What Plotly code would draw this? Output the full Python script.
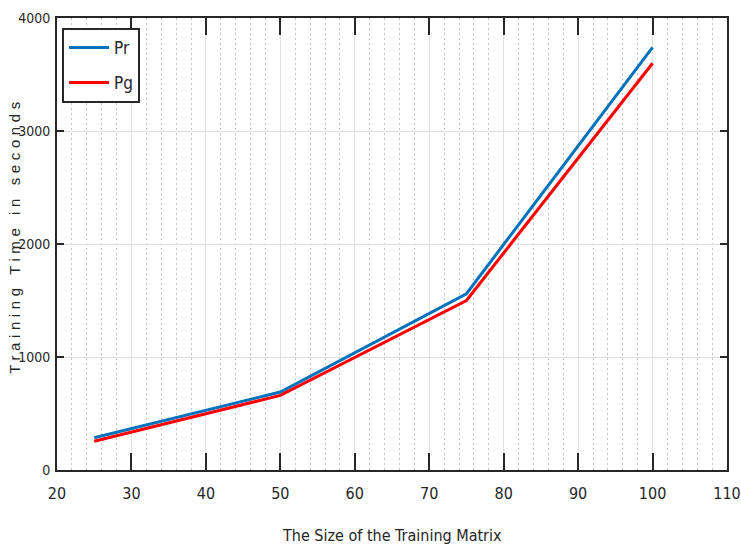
import plotly.graph_objects as go

# Training matrix sizes and measured training times (seconds)
matrix_size = [25, 50, 75, 100]
time_pr = [285, 690, 1560, 3740]
time_pg = [255, 660, 1500, 3600]

x_ticks = [20, 30, 40, 50, 60, 70, 80, 90, 100, 110]
y_ticks = [0, 1000, 2000, 3000, 4000]
x_minor_step = 2

narrow = "DejaVu Sans Condensed, Liberation Sans Narrow, Liberation Sans, sans-serif"
ink = "#262626"

fig = go.Figure()
fig.add_trace(go.Scatter(x=matrix_size, y=time_pr, mode="lines", name="Pr",
                         legendgroup="pr",
                         line=dict(color="#0072BD", width=3)))
fig.add_trace(go.Scatter(x=matrix_size, y=time_pg, mode="lines", name="Pg",
                         legendgroup="pg",
                         line=dict(color="#FF0000", width=3)))

fig.update_layout(
    width=741, height=553,
    margin=dict(l=57, r=14, t=18, b=83),
    paper_bgcolor="white", plot_bgcolor="white",
    font=dict(family=narrow, size=15, color=ink),
    showlegend=True,
    legend=dict(x=0.0075, y=0.978, xanchor="left", yanchor="top",
                bgcolor="white", bordercolor=ink, borderwidth=2,
                font=dict(family=narrow, size=17, color=ink),
                tracegroupgap=10, itemwidth=40),
)

fig.update_xaxes(
    range=[x_ticks[0], x_ticks[-1]],
    tickmode="linear", tick0=x_ticks[0], dtick=x_ticks[1] - x_ticks[0],
    ticks="inside", ticklen=17, tickwidth=1.5, tickcolor=ink,
    showline=True, linecolor=ink, linewidth=2, mirror="ticks",
    showgrid=True, gridcolor="#e0e0e0", gridwidth=1,
    minor=dict(tickmode="linear", tick0=x_ticks[0], dtick=x_minor_step,
               showgrid=True, gridcolor="#c4c4c4", griddash="2px,3px",
               gridwidth=1, ticks=""),
    tickfont=dict(family=narrow, size=16, color=ink),
    ticklabelstandoff=8,
    automargin=False,
    zeroline=False,
)
fig.update_yaxes(
    range=[y_ticks[0], y_ticks[-1]], tickvals=y_ticks,
    ticktext=[str(v) for v in y_ticks],
    ticks="inside", ticklen=7, tickwidth=1.5, tickcolor=ink,
    showline=True, linecolor=ink, linewidth=2, mirror="ticks",
    showgrid=True, gridcolor="#e0e0e0", gridwidth=1,
    tickfont=dict(family=narrow, size=14, color=ink),
    ticklabelstandoff=2,
    automargin=False,
    zeroline=False,
)

fig.add_annotation(
    text="The Size of the Training Matrix", xref="paper", yref="paper",
    x=0.5, y=-0.144, xanchor="center", yanchor="middle", showarrow=False,
    font=dict(family=narrow, size=16, color=ink),
)
fig.add_annotation(
    text='<span style="letter-spacing:4.6px">Training Time in seconds</span>',
    xref="paper", yref="paper", x=-0.063, y=0.52,
    xanchor="center", yanchor="middle", textangle=-90, showarrow=False,
    font=dict(family="Liberation Sans, Arial, sans-serif", size=15, color=ink),
)

fig.write_html("out.html")
